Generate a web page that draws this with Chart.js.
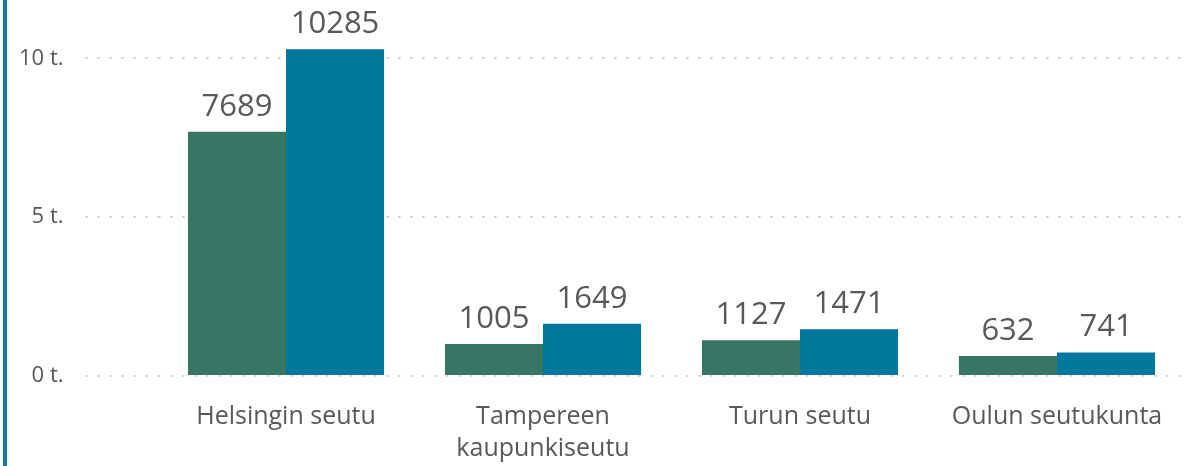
<!DOCTYPE html>
<html>
<head>
<meta charset="utf-8">
<script src="https://cdn.jsdelivr.net/npm/chart.js@4"></script>
<style>
  html, body { margin: 0; padding: 0; background: #fff; }
  #wrap { position: relative; width: 1198px; height: 466px; }
  #bar { position: absolute; left: 3px; top: 0; width: 4px; height: 466px; background: #137c9c; }
  canvas { position: absolute; left: 0; top: 0; }
</style>
</head>
<body>
<div id="wrap">
  <canvas id="c" width="1198" height="466"></canvas>
  <div id="bar"></div>
</div>
<script>
const categories = ['Helsingin seutu', ['Tampereen', 'kaupunkiseutu'], 'Turun seutu', 'Oulun seutukunta'];
const seriesA = [7689, 1005, 1127, 632];
const seriesB = [10285, 1649, 1471, 741];
const tickValues = [0, 5000, 10000];
const tickLabels = ['0 t.', '5 t.', '10 t.'];

const textColor = '#595959';
const gridColor = '#c8c8c8';

const valueLabels = {
  id: 'valueLabels',
  afterDatasetsDraw(chart) {
    const ctx = chart.ctx;
    ctx.save();
    ctx.font = '31px "Open Sans"';
    ctx.fillStyle = textColor;
    ctx.textAlign = 'center';
    ctx.textBaseline = 'alphabetic';
    chart.data.datasets.forEach((ds, i) => {
      chart.getDatasetMeta(i).data.forEach((el, j) => {
        ctx.fillText(String(ds.data[j]), el.x, el.y - 16);
      });
    });
    ctx.restore();
  }
};

new Chart(document.getElementById('c'), {
  type: 'bar',
  data: {
    labels: categories,
    datasets: [
      { data: seriesA, backgroundColor: '#377565', categoryPercentage: 0.763, barPercentage: 1 },
      { data: seriesB, backgroundColor: '#00789c', categoryPercentage: 0.763, barPercentage: 1 }
    ]
  },
  options: {
    responsive: false,
    animation: false,
    layout: { padding: { top: 10, right: 12.5, left: 0, bottom: 0 } },
    plugins: { legend: { display: false }, tooltip: { enabled: false } },
    scales: {
      x: {
        grid: { display: false, drawTicks: false },
        border: { display: false },
        ticks: {
          color: textColor,
          font: { family: 'Open Sans', size: 25, lineHeight: 1.28 },
          padding: 25,
          maxRotation: 0,
          autoSkip: false
        },
        afterFit(scale) { scale.height = 90; }
      },
      y: {
        min: 0,
        max: 10730,
        afterBuildTicks(scale) { scale.ticks = tickValues.map(v => ({ value: v })); },
        border: { display: true, width: 0, dash: [2, 10], dashOffset: 11.5 },
        grid: {
          color: gridColor,
          lineWidth: 2,
          drawTicks: true,
          tickLength: 72,
          tickColor: gridColor,
          tickWidth: 2,
          tickBorderDash: [2, 10]
        },
        ticks: {
          color: textColor,
          font: { family: 'Open Sans', size: 22 },
          padding: 22,
          callback(v) { const k = tickValues.indexOf(v); return k >= 0 ? tickLabels[k] : ''; }
        },
        afterFit(scale) { scale.width = 157.5; }
      }
    }
  },
  plugins: [valueLabels]
});
</script>
</body>
</html>
